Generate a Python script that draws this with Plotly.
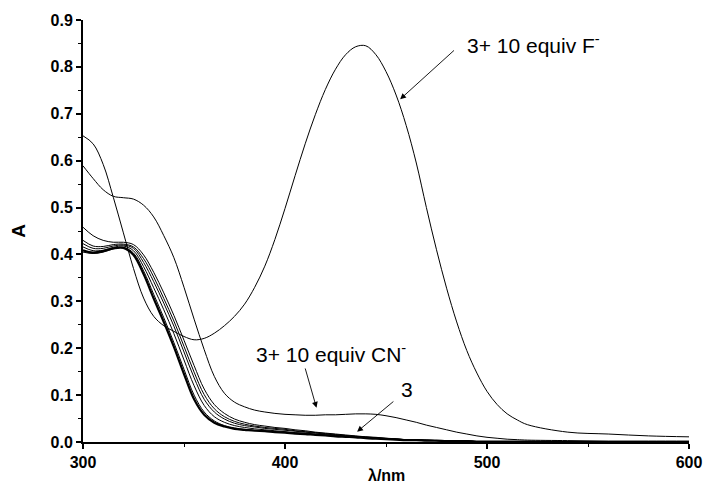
import plotly.graph_objects as go

wavelength = [300, 305, 310, 315, 320, 325, 330, 335, 340, 345, 350, 355, 360, 365, 370,
              375, 380, 385, 390, 395, 400, 405, 410, 415, 420, 425, 430, 435, 440, 445,
              450, 455, 460, 465, 470, 475, 480, 485, 490, 495, 500, 505, 510, 515, 520,
              540, 560, 580, 600]

abs_F = [0.653, 0.636, 0.592, 0.522, 0.446, 0.370, 0.307, 0.268, 0.248, 0.236, 0.225, 0.218,
         0.221, 0.232, 0.248, 0.268, 0.294, 0.330, 0.375, 0.432, 0.498, 0.568, 0.636, 0.698,
         0.752, 0.795, 0.826, 0.843, 0.845, 0.826, 0.790, 0.740, 0.675, 0.595, 0.500, 0.410,
         0.328, 0.256, 0.195, 0.147, 0.108, 0.080, 0.060, 0.047, 0.037, 0.021, 0.017, 0.013,
         0.011]

abs_CN = [0.589, 0.562, 0.538, 0.524, 0.521, 0.518, 0.505, 0.480, 0.440, 0.393, 0.330, 0.262,
          0.197, 0.140, 0.104, 0.085, 0.075, 0.068, 0.064, 0.061, 0.059, 0.058, 0.057, 0.057,
          0.058, 0.058, 0.059, 0.060, 0.060, 0.059, 0.056, 0.052, 0.047, 0.042, 0.036, 0.031,
          0.026, 0.021, 0.017, 0.013, 0.010, 0.008, 0.006, 0.005, 0.004, 0.003, 0.002, 0.002,
          0.002]

abs_3 = [0.409, 0.404, 0.407, 0.413, 0.414, 0.399, 0.358, 0.306, 0.256, 0.203, 0.145, 0.091,
         0.058, 0.041, 0.033, 0.028, 0.026, 0.024, 0.023, 0.021, 0.020, 0.018, 0.017, 0.015,
         0.014, 0.012, 0.011, 0.010, 0.008, 0.007, 0.006, 0.005, 0.004, 0.004, 0.003, 0.003,
         0.002, 0.002, 0.002, 0.001, 0.001, 0.001, 0.001, 0.001, 0.001, 0.000, 0.000, 0.000,
         0.000]

abs_s1 = [0.405, 0.402, 0.405, 0.412, 0.415, 0.403, 0.365, 0.315, 0.265, 0.212, 0.155, 0.100,
          0.064, 0.045, 0.035, 0.030, 0.027, 0.025, 0.024, 0.022, 0.021, 0.019, 0.018, 0.016,
          0.015, 0.013, 0.012, 0.010, 0.009, 0.008, 0.006, 0.005, 0.005, 0.004, 0.003, 0.003,
          0.002, 0.002, 0.002, 0.001, 0.001, 0.001, 0.001, 0.001, 0.001, 0.000, 0.000, 0.000,
          0.000]

abs_s2 = [0.416, 0.408, 0.409, 0.415, 0.418, 0.408, 0.374, 0.329, 0.282, 0.231, 0.175, 0.120,
          0.078, 0.054, 0.042, 0.035, 0.031, 0.028, 0.026, 0.024, 0.022, 0.020, 0.019, 0.017,
          0.015, 0.014, 0.012, 0.011, 0.009, 0.008, 0.007, 0.006, 0.005, 0.004, 0.003, 0.003,
          0.002, 0.002, 0.002, 0.001, 0.001, 0.001, 0.001, 0.001, 0.001, 0.000, 0.000, 0.000,
          0.000]

abs_s3 = [0.423, 0.413, 0.413, 0.418, 0.420, 0.413, 0.383, 0.342, 0.296, 0.247, 0.192, 0.137,
          0.091, 0.064, 0.049, 0.040, 0.035, 0.032, 0.029, 0.027, 0.025, 0.023, 0.021, 0.019,
          0.017, 0.015, 0.013, 0.012, 0.010, 0.009, 0.007, 0.006, 0.005, 0.004, 0.004, 0.003,
          0.002, 0.002, 0.002, 0.001, 0.001, 0.001, 0.001, 0.001, 0.001, 0.000, 0.000, 0.000,
          0.000]

abs_s4 = [0.430, 0.418, 0.417, 0.421, 0.422, 0.416, 0.391, 0.352, 0.306, 0.258, 0.204, 0.149,
          0.101, 0.071, 0.054, 0.044, 0.038, 0.034, 0.031, 0.029, 0.027, 0.024, 0.022, 0.020,
          0.018, 0.016, 0.014, 0.012, 0.011, 0.009, 0.008, 0.006, 0.005, 0.004, 0.004, 0.003,
          0.003, 0.002, 0.002, 0.001, 0.001, 0.001, 0.001, 0.001, 0.001, 0.000, 0.000, 0.000,
          0.000]

abs_s5 = [0.458, 0.440, 0.430, 0.426, 0.426, 0.421, 0.399, 0.362, 0.318, 0.270, 0.217, 0.163,
          0.113, 0.080, 0.061, 0.049, 0.042, 0.037, 0.034, 0.031, 0.029, 0.026, 0.024, 0.021,
          0.019, 0.017, 0.015, 0.013, 0.011, 0.010, 0.008, 0.007, 0.005, 0.005, 0.004, 0.003,
          0.003, 0.002, 0.002, 0.001, 0.001, 0.001, 0.001, 0.001, 0.001, 0.000, 0.000, 0.000,
          0.000]

x_ticks = [300, 400, 500, 600]
y_ticks = [0.0, 0.1, 0.2, 0.3, 0.4, 0.5, 0.6, 0.7, 0.8, 0.9]

FONT = "Liberation Sans, Arial, sans-serif"

fig = go.Figure()

thin_series = [abs_s5, abs_s4, abs_s3, abs_s2, abs_s1, abs_CN, abs_F]
for ys in thin_series:
    fig.add_trace(go.Scatter(x=wavelength, y=ys, mode="lines",
                             line=dict(color="black", width=1, shape="spline", smoothing=1.0),
                             showlegend=False, hoverinfo="skip"))
fig.add_trace(go.Scatter(x=wavelength, y=abs_3, mode="lines",
                         line=dict(color="black", width=2.2, shape="spline", smoothing=1.0),
                         showlegend=False, hoverinfo="skip"))

label_font = dict(family=FONT, size=21, color="black")
annotations = [
    # labels
    dict(x=489.3, y=0.849, text="3+ 10 equiv F<sup>-</sup>", showarrow=False,
         xanchor="left", yanchor="middle", font=label_font),
    dict(x=384.6, y=0.190, text="3+ 10 equiv CN<sup>-</sup>", showarrow=False,
         xanchor="left", yanchor="middle", font=label_font),
    dict(x=456.3, y=0.111, text="3", showarrow=False,
         xanchor="left", yanchor="middle", font=label_font),
    # arrows
    dict(x=457.0, y=0.731, ax=484.4, ay=0.838, axref="x", ayref="y", text="",
         showarrow=True, arrowhead=2, arrowsize=1.3, arrowwidth=0.9, arrowcolor="black"),
    dict(x=415.6, y=0.073, ax=409.8, ay=0.160, axref="x", ayref="y", text="",
         showarrow=True, arrowhead=2, arrowsize=1.3, arrowwidth=0.9, arrowcolor="black"),
    dict(x=435.7, y=0.022, ax=454.4, ay=0.089, axref="x", ayref="y", text="",
         showarrow=True, arrowhead=2, arrowsize=1.3, arrowwidth=0.9, arrowcolor="black"),
    # axis titles
    dict(xref="paper", yref="paper", x=-0.1055, y=0.501, text="A", textangle=-90,
         showarrow=False, xanchor="center", yanchor="middle",
         font=dict(family=FONT, size=19, color="black", weight="bold")),
    dict(xref="paper", yref="paper", x=0.5, y=-0.08, text="λ/nm",
         showarrow=False, xanchor="center", yanchor="middle",
         font=dict(family=FONT, size=16, color="black", weight="bold")),
]

tick_font = dict(family=FONT, size=16, color="black", weight="bold")

fig.update_layout(
    width=714, height=485,
    margin=dict(l=83, r=15, t=19, b=43),
    paper_bgcolor="white", plot_bgcolor="white",
    annotations=annotations,
    xaxis=dict(range=[300, 600], tickvals=x_ticks,
               ticktext=[str(v) for v in x_ticks],
               showline=True, linecolor="black", linewidth=2, mirror=False,
               ticks="outside", ticklen=5, tickwidth=1.5, tickcolor="black",
               minor=dict(ticks="outside", ticklen=3, tickwidth=1.2, tickcolor="black", dtick=50),
               showgrid=False, zeroline=False, tickfont=tick_font),
    yaxis=dict(range=[0, 0.9], tickvals=y_ticks,
               ticktext=[f"{v:.1f}" for v in y_ticks],
               showline=True, linecolor="black", linewidth=2, mirror=False,
               ticks="outside", ticklen=5, tickwidth=1.5, tickcolor="black",
               minor=dict(ticks="outside", ticklen=3, tickwidth=1.2, tickcolor="black", dtick=0.05),
               showgrid=False, zeroline=False, tickfont=tick_font),
)

fig.write_html("out.html")
